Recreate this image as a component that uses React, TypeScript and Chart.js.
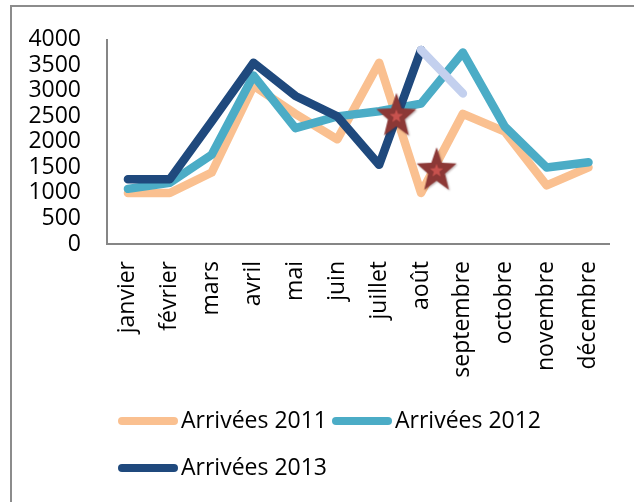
import React, { useEffect, useRef } from "react";
import { Chart, registerables } from "chart.js";

Chart.register(...registerables);

const months = ["janvier", "février", "mars", "avril", "mai", "juin", "juillet", "août", "septembre", "octobre", "novembre", "décembre"];
const arrivees2011 = [1000, 1000, 1400, 3100, 2550, 2050, 3550, 1000, 2550, 2200, 1150, 1500];
const arrivees2012 = [1080, 1200, 1750, 3300, 2270, 2500, 2600, 2750, 3750, 2300, 1500, 1600];
const arrivees2013 = [1270, 1270, 2400, 3550, 2900, 2500, 1550, 3800, 2950, null, null, null];
const starPoints = [
  { x: 6.41, y: 2520 },
  { x: 7.37, y: 1455 },
];
const yTicks = [0, 500, 1000, 1500, 2000, 2500, 3000, 3500, 4000];

const FONT = "'Open Sans', 'DejaVu Sans', sans-serif";
const FSIZE = 23;

function starPath(ctx: CanvasRenderingContext2D, cx: number, cy: number, r: number, sy: number) {
  const inner = r * 0.42;
  ctx.beginPath();
  for (let i = 0; i < 10; i++) {
    const rad = i % 2 === 0 ? r : inner;
    const a = -Math.PI / 2 + (i * Math.PI) / 5;
    const px = cx + rad * Math.cos(a);
    const py = cy + rad * Math.sin(a) * sy;
    if (i === 0) ctx.moveTo(px, py);
    else ctx.lineTo(px, py);
  }
  ctx.closePath();
}

function makeStar(): HTMLCanvasElement {
  const c = document.createElement("canvas");
  c.width = 46;
  c.height = 50;
  const ctx = c.getContext("2d")!;
  ctx.save();
  ctx.shadowColor = "rgba(60,20,20,0.35)";
  ctx.shadowBlur = 2;
  ctx.shadowOffsetX = 1;
  ctx.shadowOffsetY = 1;
  starPath(ctx, 23, 26, 21, 1.12);
  ctx.fillStyle = "#8C3836";
  ctx.fill();
  ctx.restore();
  starPath(ctx, 23, 26, 7, 1.0);
  ctx.fillStyle = "#C8524E";
  ctx.fill();
  return c;
}

const legendPlugin = {
  id: "customLegend",
  afterDraw(chart: any) {
    const ctx: CanvasRenderingContext2D = chart.ctx;
    const items = chart.data.datasets.filter((d: any) => d.showInLegend !== false);
    ctx.save();
    ctx.font = `${FSIZE}px ${FONT}`;
    ctx.textBaseline = "middle";
    ctx.textAlign = "left";
    const startX = 118;
    let x = startX;
    let y = 421;
    items.forEach((d: any) => {
      const w = ctx.measureText(d.label).width;
      if (x + 64 + w > 610) {
        x = startX;
        y += 47;
      }
      ctx.strokeStyle = d.borderColor;
      ctx.lineWidth = 8;
      ctx.lineCap = "round";
      ctx.beginPath();
      ctx.moveTo(x + 4, y);
      ctx.lineTo(x + 56, y);
      ctx.stroke();
      ctx.fillStyle = "#000";
      ctx.fillText(d.label, x + 63, y);
      x += 63 + w + 5;
    });
    ctx.restore();
  },
};

export default function App() {
  const ref = useRef<HTMLCanvasElement | null>(null);

  useEffect(() => {
    if (!ref.current) return;
    const star = makeStar();
    const lineCommon = {
      type: "line" as const,
      borderWidth: 8.5,
      pointRadius: 0,
      pointHoverRadius: 0,
      borderJoinStyle: "round" as const,
      borderCapStyle: "round" as const,
      tension: 0,
      fill: false,
      spanGaps: false,
    };
    const chart = new Chart(ref.current, {
      type: "line",
      data: {
        labels: months,
        datasets: [
          { ...lineCommon, label: "Arrivées 2011", data: arrivees2011, borderColor: "#FAC090", backgroundColor: "#FAC090", order: 3 },
          { ...lineCommon, label: "Arrivées 2012", data: arrivees2012, borderColor: "#4BACC6", backgroundColor: "#4BACC6", order: 2 },
          {
            ...lineCommon,
            label: "Arrivées 2013",
            data: arrivees2013,
            borderColor: "#1F497D",
            backgroundColor: "#1F497D",
            order: 1,
            segment: {
              borderColor: (c: any) => (c.p0DataIndex === 7 ? "#C3D0EE" : undefined),
            },
          },
          {
            type: "scatter" as const,
            label: "stars",
            showInLegend: false,
            xAxisID: "xs",
            data: starPoints,
            pointStyle: star,
            pointRadius: 20,
            order: 0,
          } as any,
        ],
      },
      options: {
        animation: false,
        responsive: false,
        layout: { padding: { left: 0, top: 35, right: 17, bottom: 0 } },
        plugins: { legend: { display: false }, tooltip: { enabled: false } },
        scales: {
          x: {
            type: "category",
            offset: true,
            grid: { display: false, drawTicks: false },
            border: { display: true, color: "#868686", width: 2 },
            ticks: { color: "#000", font: { family: FONT, size: FSIZE }, minRotation: 90, maxRotation: 90, padding: 17, autoSkip: false },
            afterFit: (s: any) => {
              s.height = 258;
            },
          },
          xs: {
            type: "linear",
            display: false,
            min: -0.5,
            max: 11.5,
          },
          y: {
            min: 0,
            max: 4000,
            afterBuildTicks: (s: any) => {
              s.ticks = yTicks.map((v) => ({ value: v }));
            },
            grid: { display: false, drawTicks: false },
            border: { display: true, color: "#868686", width: 2 },
            ticks: {
              color: "#000",
              font: { family: FONT, size: FSIZE },
              padding: 26,
              autoSkip: false,
              callback: (v: any) => String(v),
            },
            afterFit: (s: any) => {
              s.width = 107;
            },
          },
        },
      },
      plugins: [legendPlugin],
    } as any);
    return () => chart.destroy();
  }, []);

  return (
    <div style={{ position: "fixed", left: 0, top: 0, width: 634, height: 502, background: "#fff", overflow: "hidden" }}>
      <div
        style={{
          position: "absolute",
          left: 10,
          top: 5,
          width: 660,
          height: 540,
          border: "2px solid #8C8C8C",
          boxSizing: "border-box",
        }}
      />
      <canvas ref={ref} width={634} height={502} style={{ position: "absolute", left: 0, top: 0, width: 634, height: 502 }} />
    </div>
  );
}
